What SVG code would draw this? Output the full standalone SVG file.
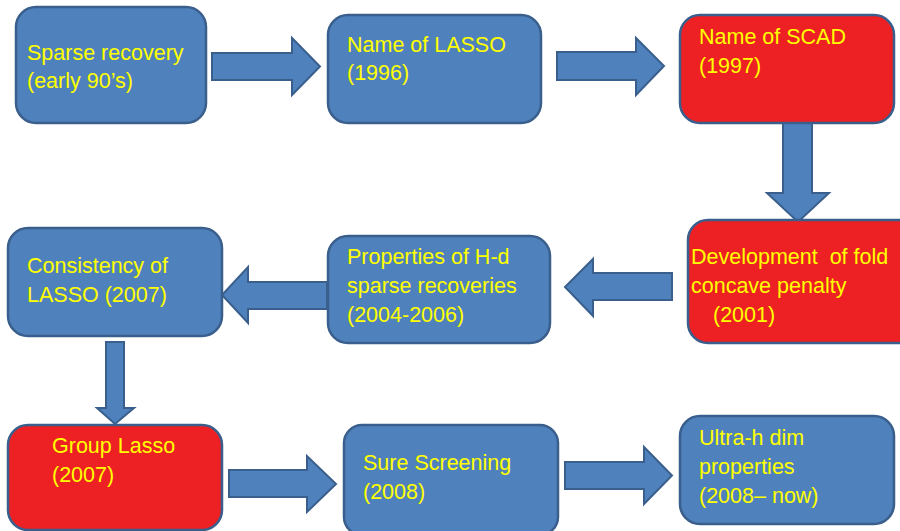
<svg xmlns="http://www.w3.org/2000/svg" width="900" height="531" viewBox="0 0 900 531">
<style>
.blue{fill:#4F81BD;stroke:#3A5F8C;stroke-width:2.5}
.red{fill:#ED2024;stroke:#3A5F8C;stroke-width:2.5}
.arr{fill:#4F81BD;stroke:#3A5F8C;stroke-width:2}
text{font-family:"Liberation Sans",Arial,sans-serif;font-size:21.5px;fill:#FFFF00}
</style>
<rect width="900" height="531" fill="#FFFFFF"/>
<g id="connectors">
<polygon class="arr" points="212,53 292,53 292,38 320,66.5 292,95 292,80 212,80"/>
<polygon class="arr" points="557,52 636,52 636,38 664,66 636,95 636,80 557,80"/>
<polygon class="arr" points="783,117 812,117 812,193 829,193 798,222 767,193 783,193"/>
<polygon class="arr" points="672,273 593,273 593,259 565,287 593,316 593,300 672,300"/>
<polygon class="arr" points="327,282 248,282 248,267 222,295 248,323 248,309 327,309"/>
<polygon class="arr" points="106,342 124,342 124,408 134,408 115,424 97,408 106,408"/>
<polygon class="arr" points="229,470 307,470 307,456 336,484 307,512 307,497 229,497"/>
<polygon class="arr" points="565,462 644,462 644,447 672,475.5 644,504 644,489 565,489"/>
</g>
<g id="n1">
<rect class="blue" x="16" y="7" width="190" height="116" rx="20"/>
<text x="27" y="60">Sparse recovery</text>
<text x="27" y="88">(early 90’s)</text>
</g>
<g id="n2">
<rect class="blue" x="328" y="15" width="213" height="108" rx="20"/>
<text x="347" y="52">Name of LASSO</text>
<text x="347" y="80">(1996)</text>
</g>
<g id="n3">
<rect class="red" x="680" y="15" width="214" height="108" rx="20"/>
<text x="699" y="44">Name of SCAD</text>
<text x="699" y="73">(1997)</text>
</g>
<g id="n4">
<rect class="red" x="688" y="220" width="230" height="123" rx="20"/>
<text x="691" y="264" xml:space="preserve">Development  of fold</text>
<text x="691" y="293">concave penalty</text>
<text x="713" y="322">(2001)</text>
</g>
<g id="n5">
<rect class="blue" x="328" y="236" width="222" height="107" rx="20"/>
<text x="347" y="264">Properties of H-d</text>
<text x="347" y="293">sparse recoveries</text>
<text x="347" y="322">(2004-2006)</text>
</g>
<g id="n6">
<rect class="blue" x="8" y="228" width="214" height="108" rx="20"/>
<text x="27" y="273">Consistency of</text>
<text x="27" y="302">LASSO (2007)</text>
</g>
<g id="n7">
<rect class="red" x="8" y="425" width="214" height="105" rx="20"/>
<text x="52" y="453">Group Lasso</text>
<text x="52" y="482">(2007)</text>
</g>
<g id="n8">
<rect class="blue" x="344" y="425" width="214" height="110" rx="18"/>
<text x="363" y="470">Sure Screening</text>
<text x="363" y="499">(2008)</text>
</g>
<g id="n9">
<rect class="blue" x="680" y="416" width="214" height="108" rx="20"/>
<text x="699" y="445">Ultra-h dim</text>
<text x="699" y="474">properties</text>
<text x="699" y="503">(2008– now)</text>
</g>
</svg>
